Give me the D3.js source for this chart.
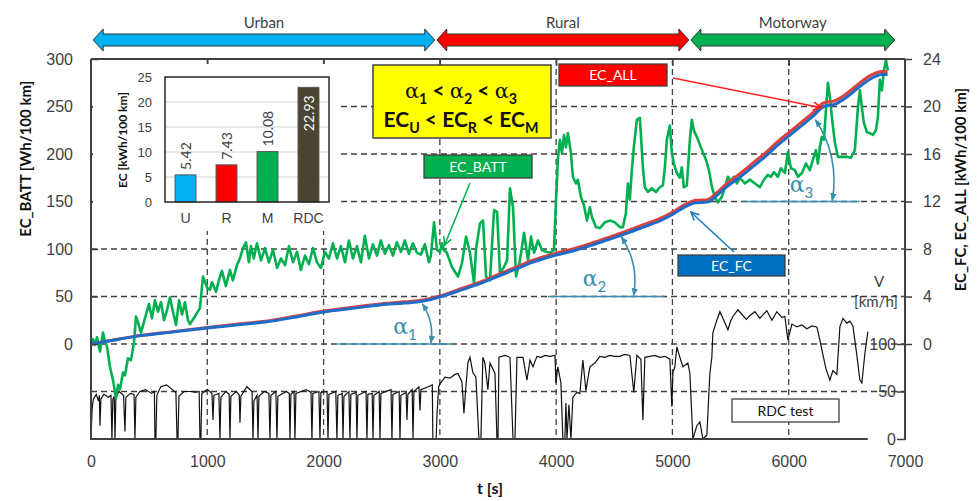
<!DOCTYPE html>
<html>
<head>
<meta charset="utf-8">
<title>EC over the RDC test</title>
<style>
  body { margin: 0; background: #fff; }
  svg { display: block; font-family: Lato, "Open Sans", sans-serif; }
  .axis text { fill: #404040; font-size: 16px; }
  .axis path { display: none; }
  .axis line { stroke: #404040; stroke-width: 1.5; }
</style>
</head>
<body>
<div id="chart"></div>
<script src="https://cdn.jsdelivr.net/npm/d3@7"></script>
<script>
// ---- data ----
var tTicks = [0, 1000, 2000, 3000, 4000, 5000, 6000, 7000];
var battTicks = [0, 50, 100, 150, 200, 250, 300];
var kwhTicks = [0, 4, 8, 12, 16, 20, 24];
var speedTicks = [0, 50, 100];

// sections of the test on top
var sections = ['Urban', 'Rural', 'Motorway'];
var sectionEdges = [10, 2965, 5150, 6920];     // t [s]

// inset bar chart
var insetCats = ['U', 'R', 'M', 'RDC'];
var insetValues = [5.42, 7.43, 10.08, 22.93];
var insetTicks = [0, 5, 10, 15, 20, 25];

// EC_BATT [Wh/100 km]  (t, value)
var ecBatt = [
[0,1],[17,5],[34,-1],[52,7],[77,-8],[103,12],[120,3],[138,-3],[163,-24],[189,-38],[215,-57],[232,-43],[249,-48],[275,-30],[292,-33],[318,-15],[344,-17],[370,2],[387,29],[404,23],[430,12],[464,27],[498,42],[524,27],[550,46],[576,34],[602,44],[628,25],[654,36],[679,49],[705,34],[731,20],[757,46],[783,31],[808,44],[834,25],[851,21],[894,29],[937,38],[963,71],[1000,59],[1023,57],[1040,65],[1075,55],[1100,67],[1126,77],[1160,61],[1195,78],[1220,67],[1255,83],[1281,90],[1307,101],[1333,107],[1358,86],[1375,103],[1400,90],[1427,106],[1462,88],[1496,101],[1530,86],[1565,99],[1600,80],[1634,90],[1668,83],[1702,103],[1737,86],[1771,97],[1805,78],[1840,93],[1874,84],[1909,101],[1943,86],[1977,80],[2012,97],[2046,90],[2080,106],[2115,90],[2149,103],[2184,86],[2218,109],[2252,90],[2287,103],[2321,86],[2355,114],[2390,90],[2424,105],[2459,93],[2493,109],[2527,95],[2562,104],[2596,93],[2630,107],[2665,97],[2699,109],[2734,95],[2768,106],[2803,96],[2837,94],[2871,105],[2906,86],[2923,93],[2950,128],[2975,99],[3001,97],
[3018,106],[3035,99],[3060,96],[3104,81],[3156,71],[3190,85],[3225,113],[3259,96],[3294,64],[3311,100],[3345,127],[3371,130],[3397,71],[3431,67],[3466,141],[3492,139],[3517,75],[3552,81],[3578,88],[3603,164],[3629,144],[3655,71],[3689,88],[3724,117],[3758,88],[3784,113],[3810,96],[3844,109],[3878,99],[3913,97],[3947,96],[3981,99],[3998,148],[4015,194],[4032,215],[4050,201],[4067,220],[4084,207],[4101,222],[4127,201],[4144,176],[4170,169],[4187,173],[4213,155],[4239,146],[4265,130],[4290,144],[4307,134],[4342,123],[4376,122],[4419,128],[4462,130],[4505,128],[4548,123],[4574,123],[4600,138],[4617,169],[4634,152],[4651,183],[4668,207],[4694,236],[4720,238],[4746,186],[4763,165],[4789,160],[4823,164],[4858,160],[4892,165],[4918,167],[4935,186],[4952,215],[4978,230],[4995,201],[5012,190],[5038,180],[5064,175],[5081,186],[5098,165],[5124,167],[5150,215],[5167,236],[5184,225],[5210,218],[5245,207],[5288,194],[5314,183],[5340,165],[5365,155],[5391,149],[5408,152],[5425,155],[5451,165],[5477,176],[5503,171],[5529,176],[5555,169],[5580,175],[5623,169],[5666,173],[5709,169],[5752,165],[5787,173],[5821,178],[5847,176],[5873,181],[5907,176],[5933,185],[5967,180],[5993,202],[6019,185],[6053,183],[6079,176],[6114,180],[6148,190],[6182,183],[6208,194],[6234,204],[6251,190],[6268,207],[6285,218],[6303,215],[6320,246],[6337,275],[6354,260],[6371,239],[6397,212],[6423,197],[6457,197],[6500,197],[6534,196],[6569,204],[6595,249],[6612,267],[6629,249],[6646,233],[6672,223],[6698,222],[6724,220],[6750,225],[6767,239],[6784,278],[6801,267],[6819,288],[6836,299],[6853,288]
];

// EC_FC and EC_ALL [kWh/100 km]  (t, value)
var ecFc = [
[0,0],[180,0.3],[360,0.6],[700,1.0],[1000,1.35],[1250,1.6],[1500,1.85],[1750,2.25],[2000,2.7],[2250,3.0],[2500,3.3],[2700,3.45],[2850,3.6],[3000,3.96],[3200,4.6],[3350,5.1],[3500,5.7],[3650,6.3],[3800,6.9],[4000,7.5],[4150,7.85],[4300,8.3],[4450,8.8],[4600,9.3],[4750,9.85],[4900,10.4],[5000,10.9],[5100,11.5],[5200,11.9],[5300,11.95],[5380,12.5],[5450,13.1],[5600,14.2],[5700,15.0],[5800,15.8],[5900,16.7],[6000,17.5],[6100,18.3],[6200,19.1],[6300,20.0],[6400,20.2],[6500,20.8],[6600,21.6],[6700,22.3],[6800,22.7],[6850,22.7]
];
var ecAll = [
[0,0],[180,0.32],[360,0.62],[700,1.04],[1000,1.4],[1250,1.66],[1500,1.92],[1750,2.33],[2000,2.78],[2250,3.09],[2500,3.4],[2700,3.55],[2850,3.7],[3000,4.05],[3200,4.72],[3350,5.23],[3500,5.85],[3650,6.45],[3800,7.05],[4000,7.65],[4150,8.02],[4300,8.47],[4450,8.98],[4600,9.48],[4750,10.04],[4900,10.6],[5000,11.1],[5100,11.7],[5200,12.1],[5300,12.15],[5380,12.72],[5450,13.35],[5600,14.5],[5700,15.3],[5800,16.1],[5900,17.0],[6000,17.8],[6100,18.6],[6200,19.4],[6300,20.3],[6400,20.5],[6500,21.1],[6600,21.9],[6700,22.6],[6800,22.95],[6850,22.93]
];

// vehicle speed V [km/h]  (t, value)
var speed = [
[0,0],[10,32],[20,42],[45,47],[65,40],[72,46],[77,14],[85,42],[110,47],[150,44],[172,46],[180,0],[188,42],[200,45],[206,0],[214,44],[240,50],[280,46],[292,8],[300,44],[340,48],[370,47],[378,0],[386,44],[420,50],[470,52],[520,48],[545,50],[550,0],[558,0],[566,46],[600,55],[650,57],[700,52],[730,49],[740,0],[748,0],[756,45],[800,50],[860,50],[900,49],[930,50],[937,0],[945,0],[953,48],[1000,52],[1040,48],[1049,20],[1057,46],[1100,48],[1109,0],[1117,44],[1160,50],[1188,47],[1195,0],[1203,45],[1250,50],[1275,46],[1281,17],[1289,45],[1340,55],[1385,50],[1393,0],[1401,40],[1428,46],[1436,0],[1444,45],[1490,50],[1530,48],[1539,0],[1547,46],[1590,50],[1599,0],[1607,45],[1680,50],[1705,48],[1711,0],[1719,47],[1746,50],[1754,0],[1762,48],[1850,52],[1892,49],[1900,0],[1908,48],[1960,50],[1969,0],[1977,49],[2030,50],[2038,0],[2046,47],[2105,50],[2115,0],[2123,46],[2160,48],[2167,0],[2175,45],[2218,50],[2227,0],[2235,47],[2280,49],[2287,0],[2295,46],[2365,50],[2373,0],[2381,47],[2418,48],[2425,0],[2433,46],[2478,50],[2485,0],[2493,48],[2580,52],[2588,0],[2596,47],[2650,50],[2657,0],[2665,46],[2710,49],[2717,20],[2725,47],[2762,52],[2769,0],[2777,50],[2820,55],[2829,30],[2837,52],[2900,55],[2935,57],[2940,0],[2968,0],[2975,25],[2990,55],
[3001,58],[3044,65],[3087,64],[3130,68],[3156,69],[3190,60],[3207,27],[3224,55],[3241,80],[3259,86],[3284,70],[3310,65],[3336,0],[3353,0],[3370,86],[3387,80],[3413,52],[3431,80],[3474,69],[3491,0],[3500,0],[3508,86],[3560,88],[3603,86],[3629,0],[3646,0],[3663,86],[3715,86],[3749,62],[3775,83],[3801,76],[3835,87],[3870,86],[3904,88],[3947,87],[3990,88],[3998,59],[4015,76],[4041,59],[4058,0],[4075,0],[4084,38],[4093,0],[4110,36],[4127,0],[4144,44],[4179,49],[4204,48],[4230,83],[4256,51],[4290,76],[4333,80],[4376,87],[4420,86],[4462,88],[4505,87],[4548,87],[4590,89],[4634,88],[4668,49],[4694,88],[4729,84],[4746,20],[4763,86],[4806,87],[4849,88],[4892,86],[4935,87],[4978,84],[4995,34],[5004,70],[5021,76],[5038,97],[5064,86],[5090,76],[5133,80],[5150,69],[5176,0],[5210,14],[5236,18],[5262,0],[5296,4],[5322,69],[5339,86],[5348,112],[5382,125],[5408,134],[5434,127],[5477,115],[5500,124],[5520,129],[5563,136],[5606,130],[5636,126],[5666,130],[5709,134],[5752,127],[5780,131],[5812,135],[5855,125],[5898,134],[5941,128],[5967,129],[5993,104],[6027,121],[6070,118],[6113,120],[6156,116],[6199,119],[6242,118],[6268,104],[6285,94],[6320,74],[6354,62],[6380,72],[6414,68],[6440,118],[6466,127],[6500,122],[6526,124],[6552,119],[6586,88],[6612,62],[6629,59],[6655,90],[6681,113]
];

(function(d3) {
  'use strict';

  var width = 977;
  var height = 501;
  var ink = '#404040';
  var teal = '#3b8eab';

  var svg = d3.select('#chart')
    .append('svg')
    .attr('width', width)
    .attr('height', height);

  // one time axis, three value axes sharing the same pixel rows
  var x = d3.scaleLinear().domain([0, 7000]).range([91, 905]);
  var yBatt = d3.scaleLinear().domain([-100, 300]).range([439, 59]);
  var yKwh = d3.scaleLinear().domain([-8, 24]).range([439, 59]);
  var ySpeed = d3.scaleLinear().domain([0, 100]).range([439, 344]);

  var defs = svg.append('defs');
  function openHead(id, colour) {
    defs.append('marker')
      .attr('id', id)
      .attr('viewBox', '0 0 10 10')
      .attr('refX', 9).attr('refY', 5)
      .attr('markerWidth', 10).attr('markerHeight', 10)
      .attr('markerUnits', 'userSpaceOnUse')
      .attr('orient', 'auto')
      .append('path')
      .attr('d', 'M1,1 L9,5 L1,9')
      .attr('fill', 'none')
      .attr('stroke', colour)
      .attr('stroke-width', 1.6);
  }
  openHead('headRed', '#ff2020');
  openHead('headGreen', '#00b050');
  openHead('headBlue', '#1a78c2');
  defs.append('marker')
    .attr('id', 'headTeal')
    .attr('viewBox', '0 0 10 10')
    .attr('refX', 9).attr('refY', 5)
    .attr('markerWidth', 8).attr('markerHeight', 8)
    .attr('markerUnits', 'userSpaceOnUse')
    .attr('orient', 'auto-start-reverse')
    .append('path')
    .attr('d', 'M0,1 L10,5 L0,9 Z')
    .attr('fill', teal);

  // ---- grid ----
  var grid = svg.append('g')
    .attr('stroke', ink)
    .attr('stroke-width', 1.3)
    .attr('stroke-dasharray', '6,4');
  grid.selectAll('.hg')
    .data([0, 50, 100, 150, 200, 250])
    .enter().append('line')
    .attr('x1', x(0)).attr('x2', x(7000))
    .attr('y1', function(d) { return yBatt(d); })
    .attr('y2', function(d) { return yBatt(d); });
  grid.append('line')
    .attr('x1', x(0)).attr('x2', x(7000))
    .attr('y1', ySpeed(50)).attr('y2', ySpeed(50));
  grid.selectAll('.vg')
    .data(tTicks.slice(1, -1))
    .enter().append('line')
    .attr('y1', yBatt(300)).attr('y2', yBatt(-100))
    .attr('x1', function(d) { return x(d); })
    .attr('x2', function(d) { return x(d); });

  // ---- series ----
  var speedLine = d3.line()
    .x(function(d) { return x(d[0]); })
    .y(function(d) { return ySpeed(d[1]); });
  var battLine = d3.line()
    .x(function(d) { return x(d[0]); })
    .y(function(d) { return yBatt(d[1]); });
  var kwhLine = d3.line()
    .x(function(d) { return x(d[0]); })
    .y(function(d) { return yKwh(d[1]); })
    .curve(d3.curveMonotoneX);

  svg.append('path').datum(speed)
    .attr('d', speedLine)
    .attr('fill', 'none').attr('stroke', '#111').attr('stroke-width', 1.2);
  svg.append('path').datum(ecBatt)
    .attr('d', battLine)
    .attr('fill', 'none').attr('stroke', '#00b050').attr('stroke-width', 2.6)
    .attr('stroke-linejoin', 'round');
  svg.append('path').datum(ecAll)
    .attr('d', kwhLine)
    .attr('fill', 'none').attr('stroke', '#e0403a').attr('stroke-width', 3);
  svg.append('path').datum(ecFc)
    .attr('d', kwhLine)
    .attr('fill', 'none').attr('stroke', '#1f6cc8').attr('stroke-width', 3);

  // ---- frame and axes ----
  var frame = svg.append('g').attr('stroke', ink).attr('stroke-width', 2);
  frame.append('line').attr('x1', x(0)).attr('x2', x(0)).attr('y1', yBatt(300)).attr('y2', yBatt(-100) + 1);
  frame.append('line').attr('x1', x(0)).attr('x2', x(7000)).attr('y1', yBatt(300)).attr('y2', yBatt(300));
  frame.append('line').attr('x1', x(7000)).attr('x2', x(7000)).attr('y1', yBatt(300)).attr('y2', yBatt(-100) + 1);
  frame.append('line').attr('x1', x(0)).attr('x2', x(6680)).attr('y1', yBatt(-100)).attr('y2', yBatt(-100));

  svg.append('g').attr('class', 'axis')
    .attr('transform', 'translate(' + x(0) + ',0)')
    .call(d3.axisLeft(yBatt).tickValues(battTicks).tickSize(-7).tickPadding(18));

  svg.append('g').attr('class', 'axis')
    .attr('transform', 'translate(0,' + yBatt(300) + ')')
    .call(d3.axisTop(x).tickValues(tTicks.slice(1, -1)).tickSize(-7).tickFormat(''));

  svg.append('g').attr('class', 'axis')
    .attr('transform', 'translate(0,' + yBatt(-100) + ')')
    .call(d3.axisBottom(x).tickValues(tTicks).tickSize(0).tickPadding(17).tickFormat(d3.format('d')));

  svg.append('g').attr('class', 'axis')
    .attr('transform', 'translate(' + x(7000) + ',0)')
    .call(d3.axisRight(yKwh).tickValues(kwhTicks).tickSize(7).tickPadding(11));

  svg.append('g').attr('class', 'axis')
    .attr('transform', 'translate(' + x(7000) + ',0)')
    .call(d3.axisLeft(ySpeed).tickValues(speedTicks).tickSize(8).tickPadding(1));

  // axis titles
  svg.append('text')
    .attr('transform', 'translate(31,' + yBatt(195) + ') rotate(-90)')
    .attr('text-anchor', 'middle')
    .attr('font-size', 15).attr('font-weight', 'bold').attr('fill', '#111')
    .text('EC_BATT [Wh/100 km]');
  svg.append('text')
    .attr('transform', 'translate(966,' + yKwh(13) + ') rotate(-90)')
    .attr('text-anchor', 'middle')
    .attr('font-size', 15).attr('font-weight', 'bold').attr('fill', '#111')
    .text('EC_FC, EC_ALL [kWh/100 km]');
  svg.append('text')
    .attr('x', 490).attr('y', 494)
    .attr('text-anchor', 'middle')
    .attr('font-size', 16).attr('font-weight', 'bold').attr('fill', '#111')
    .text('t [s]');
  svg.append('text')
    .attr('x', 879).attr('y', ySpeed(160))
    .attr('text-anchor', 'middle').attr('font-size', 15).attr('fill', ink)
    .text('V');
  svg.append('text')
    .attr('x', 876).attr('y', ySpeed(139))
    .attr('text-anchor', 'middle').attr('font-size', 15).attr('fill', ink)
    .text('[km/h]');

  // ---- section arrows on top ----
  var sectionColours = ['#00b0f0', '#ff0000', '#00b050'];
  var arrowY = 40;
  sections.forEach(function(name, i) {
    var a = x(sectionEdges[i]) + 1;
    var b = x(sectionEdges[i + 1]) - 1;
    var hl = 10, sh = 6, hh = 11;
    var pts = [
      [a, arrowY], [a + hl, arrowY - hh], [a + hl, arrowY - sh],
      [b - hl, arrowY - sh], [b - hl, arrowY - hh], [b, arrowY],
      [b - hl, arrowY + hh], [b - hl, arrowY + sh], [a + hl, arrowY + sh],
      [a + hl, arrowY + hh]
    ];
    svg.append('polygon')
      .attr('points', pts.map(function(p) { return p.join(','); }).join(' '))
      .attr('fill', sectionColours[i])
      .attr('stroke', '#333').attr('stroke-width', 1);
    svg.append('text')
      .attr('x', (a + b) / 2).attr('y', 28)
      .attr('text-anchor', 'middle').attr('font-size', 15).attr('fill', ink)
      .text(name);
  });

  // ---- inset bar chart ----
  svg.append('rect')
    .attr('x', 93).attr('y', 64).attr('width', 247).attr('height', 167)
    .attr('fill', '#fff');
  var ix = d3.scaleBand().domain(insetCats).range([165, 329]).paddingInner(0.49).paddingOuter(0.245);
  var iy = d3.scaleLinear().domain([0, 25]).range([202, 77]);
  var insetColours = ['#00b0f0', '#ff0000', '#00b050', '#4a4430'];

  svg.append('g').selectAll('line')
    .data(insetTicks.slice(1, -1))
    .enter().append('line')
    .attr('x1', 165).attr('x2', 329)
    .attr('y1', function(d) { return iy(d); })
    .attr('y2', function(d) { return iy(d); })
    .attr('stroke', '#d0d0d0').attr('stroke-width', 1);

  svg.append('g').selectAll('rect')
    .data(insetValues)
    .enter().append('rect')
    .attr('x', function(d, i) { return ix(insetCats[i]); })
    .attr('width', ix.bandwidth())
    .attr('y', function(d) { return iy(d); })
    .attr('height', function(d) { return iy(0) - iy(d); })
    .attr('fill', function(d, i) { return insetColours[i]; })
    .attr('stroke', '#555').attr('stroke-width', 1);

  svg.append('g').selectAll('text')
    .data(insetValues)
    .enter().append('text')
    .attr('transform', function(d, i) {
      var cx = ix(insetCats[i]) + ix.bandwidth() / 2 + 5;
      var cy = i === 3 ? iy(d) + 8 : iy(d) - 5;
      return 'translate(' + cx + ',' + cy + ') rotate(-90)';
    })
    .attr('text-anchor', function(d, i) { return i === 3 ? 'end' : 'start'; })
    .attr('font-size', 14)
    .attr('fill', function(d, i) { return i === 3 ? '#fff' : ink; })
    .text(function(d) { return d3.format('.2f')(d); });

  svg.append('rect')
    .attr('x', 165).attr('y', 77).attr('width', 164).attr('height', 125)
    .attr('fill', 'none').attr('stroke', '#262626').attr('stroke-width', 1.5);

  var insetAxis = svg.append('g').attr('class', 'axis')
    .attr('transform', 'translate(165,0)')
    .call(d3.axisLeft(iy).tickValues(insetTicks).tickSize(0).tickPadding(13));
  insetAxis.selectAll('text').style('font-size', '13px');

  var catAxis = svg.append('g').attr('class', 'axis')
    .attr('transform', 'translate(0,202)')
    .call(d3.axisBottom(ix).tickSize(0).tickPadding(11));
  catAxis.selectAll('text').style('font-size', '14px');

  svg.append('text')
    .attr('transform', 'translate(127,140) rotate(-90)')
    .attr('text-anchor', 'middle')
    .attr('font-size', 12).attr('font-weight', 'bold').attr('fill', '#111')
    .text('EC [kWh/100 km]');

  // ---- text with subscripts ----
  function richText(g, px, py, size, colour, parts) {
    var t = g.append('text')
      .attr('x', px).attr('y', py)
      .attr('text-anchor', 'middle')
      .attr('font-size', size).attr('fill', colour);
    var shift = 0;
    parts.forEach(function(p) {
      var s = t.append('tspan').text(p.text);
      var want = p.sub ? size * 0.28 : 0;
      s.attr('dy', want - shift);
      shift = want;
      if (p.sub) s.attr('font-size', size * 0.68);
      if (p.alpha) s.attr('font-family', '"DejaVu Serif", serif').attr('font-weight', 'normal');
    });
    return t;
  }

  // yellow summary box
  svg.append('rect')
    .attr('x', 373).attr('y', 65).attr('width', 178).attr('height', 73)
    .attr('fill', '#ffff00').attr('stroke', ink).attr('stroke-width', 1.5);
  richText(svg, 461, 98, 21, '#111', [
    { text: 'α', alpha: true }, { text: '1', sub: true }, { text: ' < ' },
    { text: 'α', alpha: true }, { text: '2', sub: true }, { text: ' < ' },
    { text: 'α', alpha: true }, { text: '3', sub: true }
  ]).attr('font-weight', 'bold');
  richText(svg, 461, 127, 21, '#111', [
    { text: 'EC' }, { text: 'U', sub: true }, { text: ' < EC' },
    { text: 'R', sub: true }, { text: ' < EC' }, { text: 'M', sub: true }
  ]).attr('font-weight', 'bold');

  // series labels with their pointers
  function tag(x0, y0, w, h, fill, colour, label) {
    svg.append('rect')
      .attr('x', x0).attr('y', y0).attr('width', w).attr('height', h)
      .attr('fill', fill).attr('stroke', ink).attr('stroke-width', 1.3);
    svg.append('text')
      .attr('x', x0 + w / 2).attr('y', y0 + h / 2 + 5)
      .attr('text-anchor', 'middle').attr('font-size', 14).attr('fill', colour)
      .text(label);
  }
  tag(559, 64, 108, 22, '#ff0000', '#fff', 'EC_ALL');
  tag(424, 155, 108, 23, '#00b050', '#fff', 'EC_BATT');
  tag(678, 255, 107, 21, '#0070c0', '#fff', 'EC_FC');
  tag(732, 399, 107, 23, '#fff', '#111', 'RDC test');

  svg.append('line')
    .attr('x1', 673).attr('y1', 78).attr('x2', x(6280)).attr('y2', yKwh(19.9))
    .attr('stroke', '#ff2020').attr('stroke-width', 1.5).attr('marker-end', 'url(#headRed)');
  svg.append('line')
    .attr('x1', 470).attr('y1', 183).attr('x2', x(3040)).attr('y2', yBatt(104))
    .attr('stroke', '#00b050').attr('stroke-width', 1.5).attr('marker-end', 'url(#headGreen)');
  svg.append('line')
    .attr('x1', 734).attr('y1', 252).attr('x2', x(5160)).attr('y2', yKwh(11.1))
    .attr('stroke', '#1a78c2').attr('stroke-width', 1.5).attr('marker-end', 'url(#headBlue)');

  // ---- slope angles ----
  function angle(t0, t1, base, tArc, vTop, tLbl, vLbl, idx) {
    var yb = yKwh(base);
    svg.append('line')
      .attr('x1', x(t0)).attr('x2', x(t1)).attr('y1', yb).attr('y2', yb)
      .attr('stroke', teal).attr('stroke-width', 1.6);
    var ax = x(tArc), ay = yKwh(vTop);
    var bx = ax + (yb - ay) * 0.2;
    svg.append('path')
      .attr('d', 'M' + ax + ',' + (ay + 2) + ' A' + (yb - ay) * 1.3 + ',' + (yb - ay) * 1.3 + ' 0 0 1 ' + bx + ',' + (yb - 1))
      .attr('fill', 'none').attr('stroke', teal).attr('stroke-width', 1.6)
      .attr('marker-start', 'url(#headTeal)').attr('marker-end', 'url(#headTeal)');
    richText(svg, x(tLbl), yKwh(vLbl), 22, teal, [
      { text: 'α', alpha: true }, { text: String(idx), sub: true }
    ]);
  }
  angle(2120, 3110, 0, 2850, 3.55, 2700, 0.85, 1);
  angle(3930, 4930, 4, 4560, 9.2, 4330, 4.9, 2);
  angle(5610, 6610, 12, 6230, 19.05, 6110, 12.8, 3);

})(window.d3);
</script>
</body>
</html>
